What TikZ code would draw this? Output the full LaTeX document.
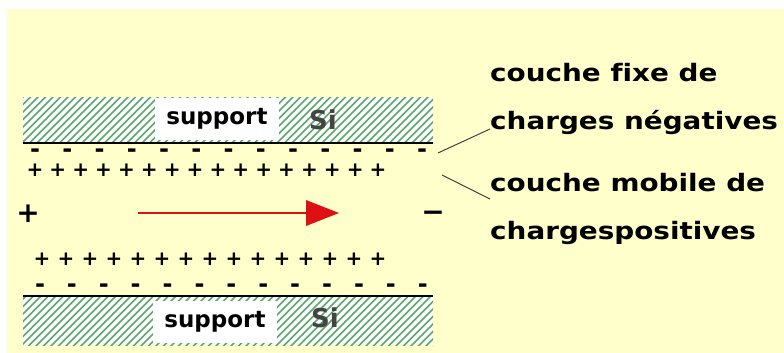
\documentclass[tikz,border=0pt]{standalone}
\usepackage{fontspec}
\setmainfont{DejaVu Sans}
\newfontfamily\lblfont[FakeStretch=1.16,Ligatures={NoCommon}]{DejaVu Sans Bold}
\definecolor{bgyellow}{HTML}{FFFFCC}
\definecolor{hatchgreen}{HTML}{5AA86A}
\definecolor{sigray}{HTML}{444444}
\definecolor{arrowred}{HTML}{DD1111}
\begin{document}
\begin{tikzpicture}[x=1pt,y=-1pt,
  hatch/.style={hatchgreen,line width=1.5pt},
  wall/.style={line width=2pt,black},
  lbl/.style={anchor=west,inner sep=0pt,font=\fontsize{24}{28}\lblfont},
  supp/.style={fill=white,inner sep=0pt,minimum width=124pt,minimum height=42pt,font=\fontsize{23}{26}\selectfont\bfseries},
  si/.style={inner sep=0pt,text=sigray,font=\fontsize{26}{30}\selectfont\bfseries},
  smallplus/.style={inner sep=0pt,font=\fontsize{20}{22}\selectfont\bfseries},
  smallminus/.style={inner sep=0pt,font=\fontsize{24}{26}\selectfont\bfseries},
  bigsign/.style={inner sep=0pt,font=\fontsize{28}{30}\selectfont\bfseries},
  leader/.style={line width=1pt,black!75}]
\useasboundingbox (0,0) rectangle (784,353);
\fill[bgyellow] (7,9) rectangle (784,353);
% top support
\begin{scope}
\clip (23,97) rectangle (433,143);
\fill[white] (23,97) rectangle (433,143);
\foreach \i in {-40,-32.5,...,440} \draw[hatch] (\i,145) -- (\i+50,95);
\end{scope}
\draw[wall] (23,143) coordinate (tl) -- (433,143) coordinate (tr);
\node[supp] (s1) at (217,119) {support};
\node[si] (si1) at (323,120) {Si};
% bottom support
\begin{scope}
\clip (23,296) rectangle (433,345);
\fill[white] (23,296) rectangle (433,345);
\foreach \i in {-40,-32.5,...,440} \draw[hatch] (\i,347) -- (\i+53,294);
\end{scope}
\draw[wall] (23,296) coordinate (bl) -- (433,296) coordinate (br);
\node[supp] (s2) at (215,322) {support};
\node[si] (si2) at (325,318) {Si};
% charges
\foreach \k in {0,...,12} \node[smallminus] (mt\k) at ({35+32.25*\k},153) {-};
\foreach \k in {0,...,15} \node[smallplus] (pt\k) at ({35+22.87*\k},170) {+};
\foreach \k in {0,...,14} \node[smallplus] (pb\k) at ({42+24*\k},259) {+};
\foreach \k in {0,...,12} \node[smallminus] (mb\k) at ({40+31.9*\k},288) {-};
\node[bigsign] (bp) at (28,214) {+};
\node[bigsign] (bm) at (433,216) {\textminus};
% arrow
\coordinate (a0) at (138,213);
\coordinate (a1) at (310,213);
\draw[arrowred,line width=2pt] (a0) -- (a1);
\fill[arrowred] (306,200) -- (339,213) -- (306,226) -- cycle;
% labels
\node[lbl] (l1) at (490,73) {couche fixe de};
\node[lbl] (l2) at (490,122) {charges négatives};
\node[lbl] (l3) at (490,183) {couche mobile de};
\node[lbl] (l4) at (490,233) {chargespositives};
\coordinate (c1) at (438,153);
\coordinate (c2) at (442,175);
\draw[leader] (c1) -- (l2.west|-0,129) ;
\draw[leader] (c2) -- (l3.west|-0,199);
\end{tikzpicture}
\end{document}
